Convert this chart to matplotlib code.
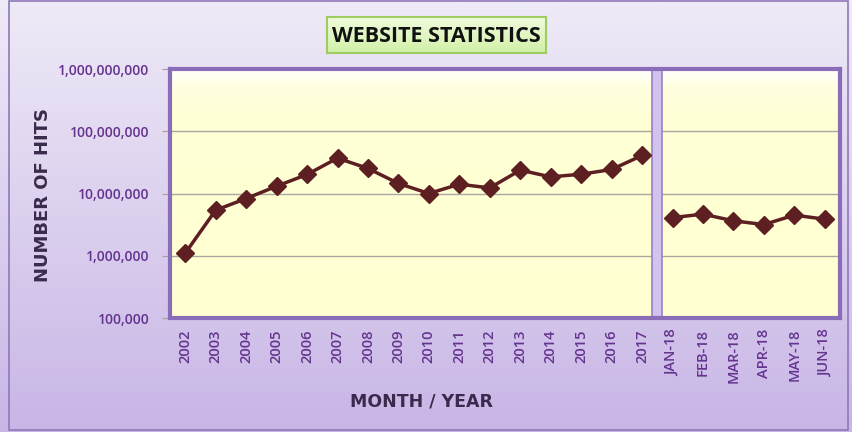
import numpy as np
import matplotlib
matplotlib.use("Agg")
import matplotlib.pyplot as plt
from matplotlib.patches import Rectangle
from matplotlib.ticker import FixedLocator, FuncFormatter, NullLocator
from matplotlib.colors import LinearSegmentedColormap

# ---- data ----
years = ["2002", "2003", "2004", "2005", "2006", "2007", "2008", "2009",
         "2010", "2011", "2012", "2013", "2014", "2015", "2016", "2017"]
year_hits = [1.1e6, 5.4e6, 8.3e6, 13.1e6, 20.2e6, 37e6, 25.3e6, 14.5e6,
             10.0e6, 14.1e6, 12.3e6, 23.7e6, 18.5e6, 20.4e6, 24.3e6, 40.8e6]
months = ["JAN-18", "FEB-18", "MAR-18", "APR-18", "MAY-18", "JUN-18"]
month_hits = [4.1e6, 4.66e6, 3.64e6, 3.17e6, 4.49e6, 3.87e6]
y_ticks = [1e5, 1e6, 1e7, 1e8, 1e9]

title = "WEBSITE STATISTICS"
xlabel = "MONTH / YEAR"
ylabel = "NUMBER OF HITS"

labels = years + months
n = len(labels)
x_years = np.arange(len(years))
x_months = np.arange(len(years), n)

fig = plt.figure(figsize=(8.52, 4.32), dpi=100)

# figure background gradient
bg = fig.add_axes([0, 0, 1, 1], zorder=-10)
grad = np.linspace(0, 1, 256).reshape(-1, 1)
bg_cmap = LinearSegmentedColormap.from_list("bg", ["#efeaf7", "#c8b6e6"])
bg.imshow(grad, aspect="auto", cmap=bg_cmap, extent=[0, 1, 0, 1], origin="upper")
bg.set_xlim(0, 1); bg.set_ylim(0, 1)
bg.axis("off")
bg.add_patch(Rectangle((0.010, 0.004), 0.985, 0.994, fill=False,
                       edgecolor="#8f78b8", linewidth=1.2))

pos = [170 / 852, 1 - 318 / 432, (840 - 170) / 852, (318 - 69) / 432]

# plot area gradient (white sheen at the top, pale yellow below)
pa = fig.add_axes(pos, zorder=-5)
pa_cmap = LinearSegmentedColormap.from_list(
    "pa", [(0.0, "#ffffff"), (0.07, "#ffffe0"), (0.2, "#ffffd6"), (1.0, "#ffffd2")])
pa.imshow(grad, aspect="auto", cmap=pa_cmap, extent=[0, 1, 0, 1], origin="upper")
pa.set_xlim(0, 1); pa.set_ylim(0, 1)
pa.axis("off")

ax = fig.add_axes(pos, zorder=1)
ax.patch.set_alpha(0)
ax.set_yscale("log")
ax.set_ylim(1e5, 1e9)
ax.set_xlim(-0.5, n - 0.5)

ax.yaxis.set_major_locator(FixedLocator(y_ticks))
ax.yaxis.set_minor_locator(NullLocator())
ax.yaxis.set_major_formatter(FuncFormatter(lambda v, p: f"{int(round(v)):,}"))
ax.grid(axis="y", color="#a8a8a0", linewidth=1.0, zorder=0)

ax.set_xticks(np.arange(n))
ax.set_xticklabels(labels, rotation=90, fontsize=10.5, color="#64348f",
                   fontfamily="Open Sans", fontweight="semibold")
for t in ax.get_yticklabels():
    t.set_fontsize(10)
    t.set_color("#64348f")
    t.set_fontfamily("Open Sans")
    t.set_fontweight("semibold")
ax.tick_params(axis="x", length=0, pad=8)
ax.tick_params(axis="y", length=6, color="#a0a0a0", pad=9)

for s in ax.spines.values():
    s.set_color("#8a6db8")
    s.set_linewidth(3)

# separator bar between years and months
sep = len(years) - 0.5
ax.axvspan(sep - 0.17, sep + 0.17, facecolor="#d2c2ee", edgecolor="#9a80c8",
           linewidth=1.2, zorder=2)

line_color = "#5e1f22"
ax.plot(x_years, year_hits, color=line_color, linewidth=2.5, marker="D",
        markersize=9, zorder=3, clip_on=False)
ax.plot(x_months, month_hits, color=line_color, linewidth=2.5, marker="D",
        markersize=9, zorder=3, clip_on=False)

fig.text(43 / 852, 1 - 195 / 432, ylabel, rotation=90, ha="center", va="center",
         fontsize=13, fontweight="heavy", color="#3a2a4c", fontfamily="DejaVu Sans")
fig.text(422 / 852, 1 - 402 / 432, xlabel, ha="center", va="center",
         fontsize=12.5, fontweight="heavy", color="#3a2a4c", fontfamily="DejaVu Sans")

# title box
tbx = fig.add_axes([327 / 852, 1 - 53 / 432, (546 - 327) / 852, 36 / 432], zorder=5)
tcmap = LinearSegmentedColormap.from_list("tb", ["#f0fbdc", "#d2f0a8"])
tbx.imshow(grad, aspect="auto", cmap=tcmap, extent=[0, 1, 0, 1], origin="upper")
tbx.set_xlim(0, 1); tbx.set_ylim(0, 1)
tbx.set_xticks([]); tbx.set_yticks([])
for s in tbx.spines.values():
    s.set_color("#9ccc62")
    s.set_linewidth(1.5)
tbx.text(0.5, 0.47, title, ha="center", va="center", fontsize=15.5,
         fontweight="bold", color="#111111", fontfamily="Open Sans")

fig.savefig("out.png", dpi=100)
